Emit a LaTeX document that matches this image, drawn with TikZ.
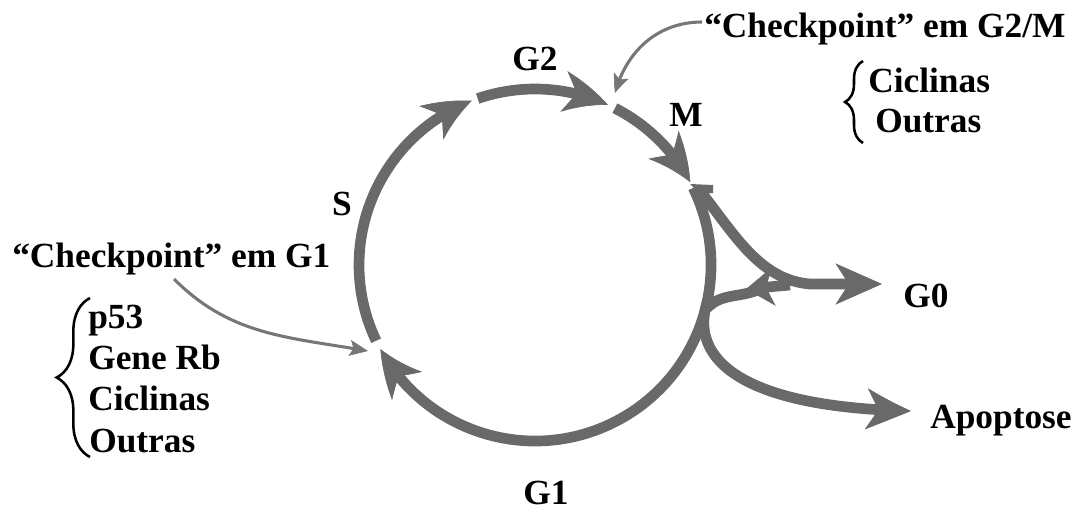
\documentclass[tikz,border=0pt]{standalone}
\usepackage{fontspec}
\setmainfont{Liberation Serif}
\usetikzlibrary{arrows.meta,bending,calc,decorations.pathreplacing}
\definecolor{cycgray}{RGB}{105,105,105}
\definecolor{thingray}{RGB}{118,118,118}
\begin{document}
\begin{tikzpicture}[x=0.75pt,y=-0.75pt,
  phase/.style={draw=cycgray,line width=8pt},
  bighead/.style={-{Stealth[length=35pt,width=31pt,inset=10pt,line width=0.5pt,bend]}},
  smallhead/.style={-{Stealth[length=21pt,width=29pt,inset=6pt,line width=0.5pt]}},
  pointer/.style={draw=thingray,line width=2.3pt,-{Stealth[length=14pt,width=12pt,inset=3pt,line width=0.5pt,bend]}},
  lbl/.style={font=\fontsize{26.5}{30}\selectfont\bfseries,inner sep=0pt},
  curly/.style={draw=black,line width=1.9pt,decorate},
]
\useasboundingbox (0,0) rectangle (1073,511);
\coordinate (C) at (535,265);
% cycle arcs
\coordinate (sS)  at ($(C)+(154.5:176)$);
\coordinate (g2S) at ($(C)+(251:176)$);
\coordinate (mS)  at ($(C)+(297:176)$);
\coordinate (g1S) at ($(C)+(334:176)$);
\draw[phase,bighead] (sS) arc[start angle=154.5, end angle=249, radius=176];
\draw[phase,bighead] (g2S) arc[start angle=251, end angle=294.5, radius=176];
\draw[phase,bighead] (mS) arc[start angle=297, end angle=332, radius=176];
\draw[phase,bighead] (g1S) arc[start angle=334, end angle=511.5, radius=176];
\fill[cycgray] (690,184) -- (713,185) -- (713,193) -- (700,194) -- cycle;
% G0 and apoptosis branches
\coordinate (g0a) at (701,192);
\coordinate (g0m) at (810,284);
\coordinate (g0tip) at (882,284);
\coordinate (jn) at (707,308);
\coordinate (ret) at (760,289);
\coordinate (retS) at (790,285);
\coordinate (retT) at (746,289);
\coordinate (jn2) at (708,300);
\coordinate (apT) at (911,411);
\draw[phase,bighead] (g0a) .. controls (735,235) and (760,280) .. (g0m) -- (g0tip);
\draw[phase] (jn) to[out=45,in=205] (ret);
\draw[phase,smallhead] (retS) -- (retT);
\draw[phase,bighead] (jn2) .. controls (690,350) and (725,407) .. (apT);
% labels
\node[lbl,anchor=base] (G2) at (535,70) {G2};
\node[lbl,anchor=base] (M) at (686,126) {M};
\node[lbl,anchor=base] (S) at (342,215) {S};
\node[lbl,anchor=base] (G1) at (546,504) {G1};
\node[lbl,anchor=base west] (G0) at (903,307) {G0};
\node[lbl,anchor=base west] (apo) at (930,428) {Apoptose};
\node[lbl,anchor=base west] (ckM) at (704,37) {“Checkpoint” em G2/M};
\node[lbl,anchor=base west] (ckG) at (12,267) {“Checkpoint” em G1};
\node[lbl,anchor=base west] (p53) at (88,328) {p53};
\node[lbl,anchor=base west] (rb) at (88,369) {Gene Rb};
\node[lbl,anchor=base west] (cicA) at (88,410) {Ciclinas};
\node[lbl,anchor=base west] (outA) at (89,452) {Outras};
\node[lbl,anchor=base west] (cicB) at (868,92) {Ciclinas};
\node[lbl,anchor=base west] (outB) at (875,132) {Outras};
% checkpoint pointers
\coordinate (p1s) at (174,279);
\coordinate (p1t) at (368,351);
\coordinate (p2s) at (702,22);
\coordinate (p2t) at (615,93);
\draw[pointer] (p1s) to[out=-45,in=170] (p1t);
\draw[pointer] (p2s) to[out=180,in=75] (p2t);
% braces
\coordinate (b1a) at (90,457);
\coordinate (b1b) at (90,298);
\coordinate (b2a) at (863,143);
\coordinate (b2b) at (863,61);
\draw[curly,decoration={brace,amplitude=25pt}] (b1a) -- (b1b);
\draw[curly,decoration={brace,amplitude=13.5pt}] (b2a) -- (b2b);
\end{tikzpicture}
\end{document}
